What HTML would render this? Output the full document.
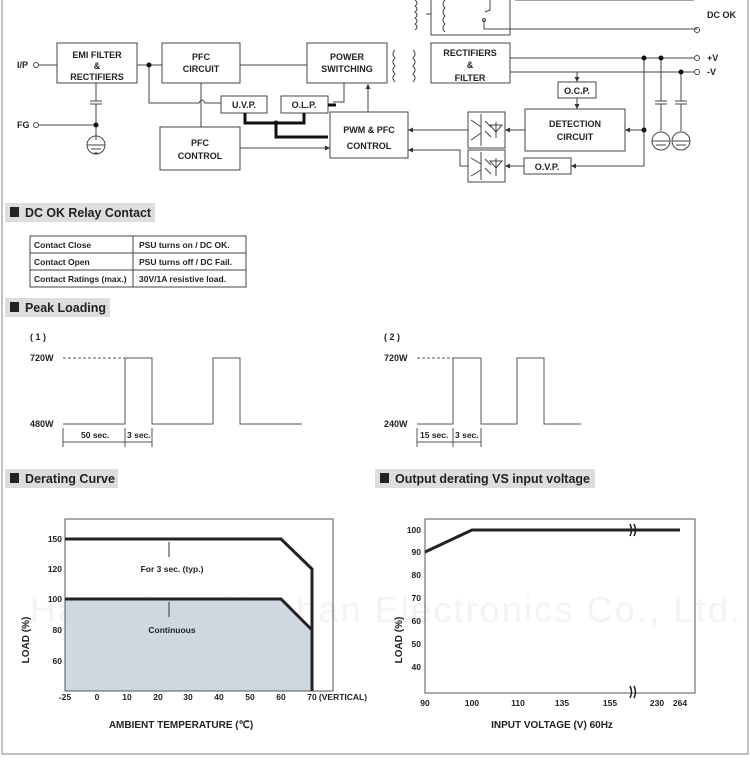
<!DOCTYPE html>
<html><head><meta charset="utf-8"><style>
html,body{margin:0;padding:0;background:#fff;width:750px;height:762px;overflow:hidden}
svg text{font-family:"Liberation Sans",sans-serif;font-weight:bold;fill:#222}
</style></head><body>
<svg width="750" height="762" viewBox="0 0 750 762" xmlns="http://www.w3.org/2000/svg">
<defs><marker id="a" markerWidth="6" markerHeight="6" refX="5" refY="3" orient="auto"><path d="M0,0.5 L5,3 L0,5.5z" fill="#333"/></marker></defs>
<path d="M2,0 V754 H748 V0" fill="none" stroke="#999" stroke-width="1.2"/>
<text x="30" y="622" font-size="36" style="fill:#f3f3f3;font-weight:normal" textLength="710" lengthAdjust="spacing">Hangzhou Nuohan Electronics Co., Ltd.</text>
<g stroke="#444" stroke-width="1" fill="none">
<rect x="431" y="-2" width="79" height="37"/>
<path d="M415,0 q4,3 0,6 q4,3 0,6 q4,3 0,6 q4,3 0,6 q4,3 0,6 M426,14 H431 M445,0 q-4,4 0,8 q-4,4 0,8 q-4,4 0,8 q-4,4 0,8 M490,0 V10 L485,12 M484,20 V29 H697 M515,0 H694"/>
<circle cx="697" cy="30" r="2.5"/><circle cx="484" cy="20" r="1.5"/>
<rect x="57" y="43" width="80" height="40" fill="#fff"/>
<rect x="162" y="43" width="78" height="40"/>
<rect x="307" y="43" width="80" height="40"/>
<rect x="431" y="43" width="79" height="40"/>
<rect x="221" y="96" width="46" height="17"/>
<rect x="281" y="96" width="47" height="17"/>
<rect x="160" y="127" width="80" height="43"/>
<rect x="330" y="112" width="78" height="46"/>
<rect x="558" y="82" width="38" height="16"/>
<rect x="525" y="109" width="100" height="42"/>
<rect x="524" y="158" width="47" height="16"/>
<rect x="468" y="112" width="37" height="36"/>
<rect x="468" y="150" width="37" height="32"/>
<circle cx="36" cy="65" r="2.5"/><circle cx="36" cy="125" r="2.5"/>
<path d="M39,65 H57 M137,65 H162 M149,65 V103 H199 q3,-6 6,0 H221 M240,65 H307 M39,125 H96 M96,83 V101 M90,101 H102 M90,104 H102 M96,104 V125 V140"/>
<circle cx="96" cy="145" r="9"/><path d="M87,145 H105 M91,149 H101 M94,153 H98"/>
<path d="M201,83 V127"/>
<path d="M240,148 H330" marker-end="url(#a)"/>
<path d="M368,112 V84" marker-end="url(#a)"/>
<path d="M344,83 V102 H333"/>
<path d="M395,50 q-4,4 0,8 q-4,4 0,8 q-4,4 0,8 q-4,4 0,8 M413,50 q4,4 0,8 q4,4 0,8 q4,4 0,8 q4,4 0,8"/>
<path d="M510,58 H694 M510,72 H694"/>
<circle cx="697" cy="58" r="2.5"/><circle cx="697" cy="72" r="2.5"/>
<path d="M577,72 V82" marker-end="url(#a)"/><path d="M577,98 V109" marker-end="url(#a)"/>
<path d="M644,58 V166 H571" marker-end="url(#a)"/>
<path d="M644,130 H625" marker-end="url(#a)"/>
<path d="M525,130 H505" marker-end="url(#a)"/>
<path d="M468,130 H408" marker-end="url(#a)"/>
<path d="M524,166 H505" marker-end="url(#a)"/>
<path d="M468,166 H460 V150 H408" marker-end="url(#a)"/>
<path d="M661,58 V101 M655,101 H667 M655,104 H667 M661,104 V131 M681,72 V101 M675,101 H687 M675,104 H687 M681,104 V131"/>
<circle cx="661" cy="141" r="9"/><circle cx="681" cy="141" r="9"/>
<path d="M652,141 H670 M656,145 H666 M672,141 H690 M676,145 H686"/>
<path d="M481,114 V146 M471,120 L481,127 M471,140 L481,133 M496,122 V138 M490,125 H502 L496,132 Z M485,121 L491,127 M485,131 L491,137"/>
<path d="M481,152 V180 M471,158 L481,164 M471,176 L481,170 M496,158 V176 M490,161 H502 L496,168 Z M485,159 L491,165 M485,168 L491,174"/>
</g>
<g stroke="#111" stroke-width="3" fill="none"><path d="M245,113 V123 H304 V113 M276,123 V137 H328 M328,105 H336"/></g>
<g fill="#111"><circle cx="149" cy="65" r="2.5"/><circle cx="96" cy="125" r="2.5"/><circle cx="644" cy="58" r="2.5"/><circle cx="661" cy="58" r="2.5"/><circle cx="681" cy="72" r="2.5"/><circle cx="644" cy="130" r="2.5"/><circle cx="276" cy="123" r="2.5"/></g>
<g font-size="9" text-anchor="middle">
<text x="97" y="58">EMI FILTER</text><text x="97" y="69">&amp;</text><text x="97" y="80">RECTIFIERS</text>
<text x="201" y="60">PFC</text><text x="201" y="72">CIRCUIT</text>
<text x="347" y="60">POWER</text><text x="347" y="72">SWITCHING</text>
<text x="470" y="56">RECTIFIERS</text><text x="470" y="68">&amp;</text><text x="470" y="81">FILTER</text>
<text x="244" y="108">U.V.P.</text><text x="304" y="108">O.L.P.</text>
<text x="200" y="146">PFC</text><text x="200" y="159">CONTROL</text>
<text x="369" y="133">PWM &amp; PFC</text><text x="369" y="149">CONTROL</text>
<text x="577" y="94">O.C.P.</text><text x="547" y="170">O.V.P.</text>
<text x="575" y="127">DETECTION</text><text x="575" y="140">CIRCUIT</text>
</g>
<g font-size="9"><text x="17" y="68">I/P</text><text x="17" y="128">FG</text><text x="707" y="18">DC OK</text><text x="707" y="61">+V</text><text x="707" y="75">-V</text></g>

<g font-size="13"><rect x="5" y="203" width="150" height="19" fill="#ddd"/><rect x="10" y="207" width="9" height="10" fill="#222"/><text x="25" y="217" textLength="126" lengthAdjust="spacingAndGlyphs">DC OK Relay Contact</text>
<rect x="5" y="298" width="105" height="19" fill="#ddd"/><rect x="10" y="302" width="9" height="10" fill="#222"/><text x="25" y="312" textLength="81" lengthAdjust="spacingAndGlyphs">Peak Loading</text>
<rect x="5" y="469" width="113" height="19" fill="#ddd"/><rect x="10" y="473" width="9" height="10" fill="#222"/><text x="25" y="483" textLength="90" lengthAdjust="spacingAndGlyphs">Derating Curve</text>
<rect x="375" y="469" width="220" height="19" fill="#ddd"/><rect x="380" y="473" width="9" height="10" fill="#222"/><text x="395" y="483" textLength="195" lengthAdjust="spacingAndGlyphs">Output derating VS input voltage</text></g>
<g stroke="#444" fill="none"><rect x="30" y="236" width="216" height="51"/><path d="M133,236 V287 M30,253 H246 M30,270 H246"/></g>
<g font-size="8.5" style="font-weight:normal"><text x="34" y="248">Contact Close</text><text x="34" y="265">Contact Open</text><text x="34" y="282">Contact Ratings (max.)</text>
<text x="139" y="248">PSU turns on / DC OK.</text><text x="139" y="265">PSU turns off / DC Fail.</text><text x="139" y="282">30V/1A resistive load.</text></g>
<g font-size="9"><text x="30" y="340">( 1 )</text><text x="30" y="361">720W</text><text x="30" y="427">480W</text>
<text x="384" y="340">( 2 )</text><text x="384" y="361">720W</text><text x="384" y="427">240W</text></g>
<g font-size="8.5" style="font-weight:normal"><text x="81" y="438">50 sec.</text><text x="127" y="438">3 sec.</text><text x="420" y="438">15 sec.</text><text x="455" y="438">3 sec.</text></g>
<g stroke="#555" fill="none">
<path d="M63,424 H125 V358 H152 V424 H213 V358 H240 V424 H302"/><path d="M63,358 H125" stroke-dasharray="3,2"/>
<path d="M417,424 H453 V358 H481 V424 H517 V358 H544 V424 H581"/><path d="M417,358 H453" stroke-dasharray="3,2"/>
<path d="M63,428 V447 M125,428 V447 M152,428 V447 M63,442 H152 M417,428 V447 M453,428 V447 M481,428 V447 M417,442 H481"/>
</g>
<path d="M65,599 H281 L312,630 V691 H65Z" fill="#cfd8e0"/>
<rect x="65" y="519" width="268" height="172" fill="none" stroke="#555"/>
<g stroke="#222" stroke-width="3" fill="none"><path d="M65,539 H281 L312,569 V691"/><path d="M65,599 H281 L312,630"/></g>
<path d="M169,557 V542 M169,617 V602" stroke="#333"/>
<g font-size="8.5" style="font-weight:normal" text-anchor="middle"><text x="172" y="572">For 3 sec. (typ.)</text><text x="172" y="633">Continuous</text></g>
<g font-size="8.5" text-anchor="end" style="font-weight:normal"><text x="62" y="542">150</text><text x="62" y="572">120</text><text x="62" y="602">100</text><text x="62" y="633">80</text><text x="62" y="664">60</text></g>
<g font-size="8.5" text-anchor="middle" style="font-weight:normal"><text x="65" y="700">-25</text><text x="97" y="700">0</text><text x="127" y="700">10</text><text x="158" y="700">20</text><text x="188" y="700">30</text><text x="219" y="700">40</text><text x="250" y="700">50</text><text x="281" y="700">60</text><text x="312" y="700">70</text><text x="343" y="700">(VERTICAL)</text></g>
<text x="181" y="728" font-size="10" text-anchor="middle">AMBIENT TEMPERATURE (℃)</text>
<text transform="translate(29,640) rotate(-90)" font-size="10" text-anchor="middle">LOAD (%)</text>
<rect x="425" y="519" width="270" height="174" fill="none" stroke="#555"/>
<path d="M425,552 L472,530 H680" stroke="#222" stroke-width="3" fill="none"/>
<g font-size="8.5" text-anchor="end" style="font-weight:normal"><text x="421" y="533">100</text><text x="421" y="555">90</text><text x="421" y="578">80</text><text x="421" y="601">70</text><text x="421" y="624">60</text><text x="421" y="647">50</text><text x="421" y="670">40</text></g>
<g font-size="8.5" text-anchor="middle" style="font-weight:normal"><text x="425" y="706">90</text><text x="472" y="706">100</text><text x="518" y="706">110</text><text x="562" y="706">135</text><text x="610" y="706">155</text><text x="657" y="706">230</text><text x="680" y="706">264</text></g>
<g stroke="#222" stroke-width="1.5" fill="none"><path d="M630,524 q3,6 0,12 M634,524 q3,6 0,12 M630,686 q3,6 0,12 M634,686 q3,6 0,12"/></g>
<text x="552" y="728" font-size="10" text-anchor="middle">INPUT VOLTAGE (V) 60Hz</text>
<text transform="translate(402,640) rotate(-90)" font-size="10" text-anchor="middle">LOAD (%)</text>
</svg>
</body></html>
